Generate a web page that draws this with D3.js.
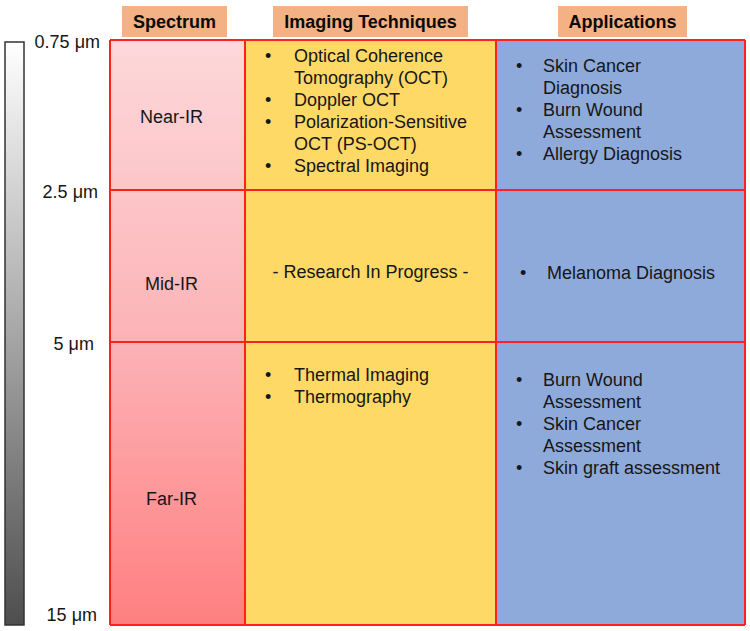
<!DOCTYPE html>
<html>
<head>
<meta charset="utf-8">
<script src="https://cdn.jsdelivr.net/npm/d3@7"></script>
<style>
  body { margin: 0; background: #fff; }
  svg { font-family: "Liberation Sans", Arial, sans-serif; }
</style>
</head>
<body>
<svg id="chart"></svg>
<script>
// wavelength band edges (µm) and their labels
const wavelengths = [0.75, 2.5, 5, 15];
const tickLabels = ["0.75 \u03bcm", "2.5 \u03bcm", "5 \u03bcm", "15 \u03bcm"];
const bands = ["Near-IR", "Mid-IR", "Far-IR"];
const columns = ["Spectrum", "Imaging Techniques", "Applications"];

// each bullet is a list of wrapped lines; a plain string is a centred note
const techniques = [
    [["Optical Coherence", "Tomography (OCT)"], ["Doppler OCT"], ["Polarization-Sensitive", "OCT (PS-OCT)"], ["Spectral Imaging"]],
    "- Research In Progress -",
    [["Thermal Imaging"], ["Thermography"]]
];
const applications = [
    [["Skin Cancer", "Diagnosis"], ["Burn Wound", "Assessment"], ["Allergy Diagnosis"]],
    [["Melanoma Diagnosis"]],
    [["Burn Wound", "Assessment"], ["Skin Cancer", "Assessment"], ["Skin graft assessment"]]
];

const config = {
    width: 750, height: 631,
    top: 40, bottom: 625,
    colEdges: [110, 245, 496, 745],
    lineH: 22,
    fontSize: 18,
    ink: "#161616"
};

const svg = d3.select("#chart")
    .attr("width", config.width)
    .attr("height", config.height);

const defs = svg.append("defs");

const grey = defs.append("linearGradient").attr("id", "grey")
    .attr("x1", 0).attr("y1", 0).attr("x2", 0).attr("y2", 1);
grey.append("stop").attr("offset", "0%").attr("stop-color", "#ffffff");
grey.append("stop").attr("offset", "100%").attr("stop-color", "#4e4e4e");

const pink = defs.append("linearGradient").attr("id", "pink")
    .attr("x1", 0).attr("y1", 0).attr("x2", 0).attr("y2", 1);
pink.append("stop").attr("offset", "0%").attr("stop-color", "#fdd8da");
pink.append("stop").attr("offset", "50%").attr("stop-color", "#fcb4b8");
pink.append("stop").attr("offset", "100%").attr("stop-color", "#ff7f80");

// piecewise scale: band edges -> rows
const span = config.bottom - config.top;
const yScale = d3.scaleLinear()
    .domain(wavelengths)
    .range([config.top, config.top + span * 0.2564, config.top + span * 0.5162, config.bottom]);

const xScale = d3.scaleOrdinal()
    .domain(columns)
    .range(config.colEdges.slice(0, 3));
const colW = c => config.colEdges[columns.indexOf(c) + 1] - xScale(c);

// grey wavelength bar
svg.append("rect")
    .attr("x", 5).attr("y", yScale(wavelengths[0]) + 2)
    .attr("width", 19).attr("height", yScale(wavelengths[3]) - yScale(wavelengths[0]) - 2)
    .attr("fill", "url(#grey)")
    .attr("stroke", "#333").attr("stroke-width", 1.5);

svg.selectAll(".tick-label")
    .data(wavelengths)
    .join("text")
    .attr("class", "tick-label")
    .attr("x", (d, i) => [100, 98, 94, 97][i])
    .attr("y", (d, i) => i === wavelengths.length - 1 ? yScale(d) - 10 : yScale(d) + 2)
    .attr("dy", "0.35em")
    .attr("text-anchor", "end")
    .attr("font-size", config.fontSize)
    .attr("fill", config.ink)
    .text((d, i) => tickLabels[i]);

// column fills
svg.append("rect")
    .attr("x", xScale("Spectrum")).attr("y", config.top)
    .attr("width", colW("Spectrum")).attr("height", span)
    .attr("fill", "url(#pink)");
svg.append("rect")
    .attr("x", xScale("Imaging Techniques")).attr("y", config.top)
    .attr("width", colW("Imaging Techniques")).attr("height", span)
    .attr("fill", "#ffd966");
svg.append("rect")
    .attr("x", xScale("Applications")).attr("y", config.top)
    .attr("width", colW("Applications")).attr("height", span)
    .attr("fill", "#8eaadb");

// grid lines
svg.selectAll(".hline")
    .data(wavelengths)
    .join("line")
    .attr("x1", config.colEdges[0]).attr("x2", config.colEdges[3])
    .attr("y1", d => yScale(d)).attr("y2", d => yScale(d))
    .attr("stroke", "#ff2020").attr("stroke-width", 2);
svg.selectAll(".vline")
    .data(config.colEdges)
    .join("line")
    .attr("x1", d => d).attr("x2", d => d)
    .attr("y1", config.top).attr("y2", config.bottom)
    .attr("stroke", "#ff2020").attr("stroke-width", 2);

// headers
const headerW = [105, 195, 129];
columns.forEach((c, i) => {
    const cx = xScale(c) + colW(c) / 2 + [-3, 0, 2][i];
    svg.append("rect")
        .attr("x", cx - headerW[i] / 2).attr("y", 6)
        .attr("width", headerW[i]).attr("height", 31)
        .attr("fill", "#f4b183");
    svg.append("text")
        .attr("x", cx).attr("y", 22)
        .attr("dy", "0.35em")
        .attr("text-anchor", "middle")
        .attr("font-size", config.fontSize)
        .attr("font-weight", "bold")
        .attr("fill", "#0a0a0a")
        .text(c);
});

// band names
svg.selectAll(".band")
    .data(bands)
    .join("text")
    .attr("x", xScale("Spectrum") + colW("Spectrum") / 2 - 6)
    .attr("y", (d, i) => (yScale(wavelengths[i]) + yScale(wavelengths[i + 1])) / 2 + [2, 18, 15][i])
    .attr("dy", "0.35em")
    .attr("text-anchor", "middle")
    .attr("font-size", config.fontSize)
    .attr("fill", config.ink)
    .text(d => d);

// bullet lists
function drawCell(col, items, bulletDx, textDx, firstY) {
    const x0 = xScale(col);
    if (typeof items === "string") {
        svg.append("text")
            .attr("x", x0 + colW(col) / 2).attr("y", firstY)
            .attr("dy", "0.35em").attr("text-anchor", "middle")
            .attr("font-size", config.fontSize).attr("fill", config.ink)
            .text(items);
        return;
    }
    let y = firstY;
    items.forEach(lines => {
        svg.append("text")
            .attr("x", x0 + bulletDx).attr("y", y)
            .attr("dy", "0.35em")
            .attr("font-size", config.fontSize).attr("fill", config.ink)
            .text("\u2022");
        lines.forEach(l => {
            svg.append("text")
                .attr("x", x0 + textDx).attr("y", y)
                .attr("dy", "0.35em")
                .attr("font-size", config.fontSize).attr("fill", config.ink)
                .text(l);
            y += config.lineH;
        });
    });
}

const nLines = items => typeof items === "string" ? 1 : d3.sum(items, d => d.length);
const rowMid = i => (yScale(wavelengths[i]) + yScale(wavelengths[i + 1])) / 2;

techniques.forEach((items, i) => {
    const first = i === 2 ? yScale(wavelengths[i]) + 33
        : rowMid(i) - (nLines(items) - 1) * config.lineH / 2 + [-4, 6][i];
    drawCell("Imaging Techniques", items, 20, 49, first);
});
applications.forEach((items, i) => {
    const first = i === 2 ? yScale(wavelengths[i]) + 38
        : rowMid(i) - (nLines(items) - 1) * config.lineH / 2 + [-5, 7][i];
    const dx = i === 1 ? 4 : 0;
    drawCell("Applications", items, 20 + dx, 47 + dx, first);
});
</script>
</body>
</html>
